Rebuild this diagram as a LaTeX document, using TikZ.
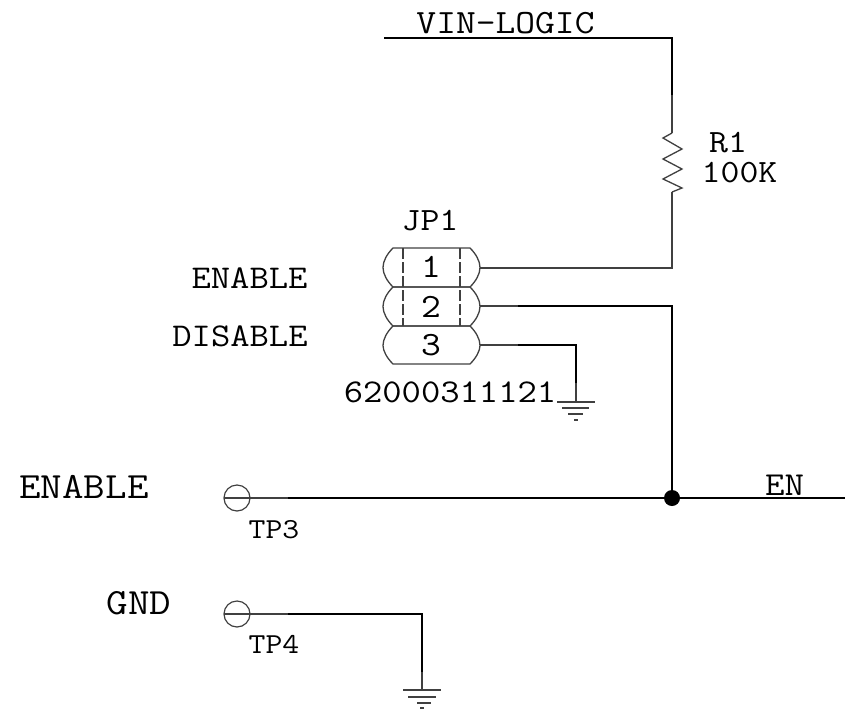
\documentclass[tikz,border=0pt]{standalone}
\usepackage{graphicx}
\definecolor{thinw}{gray}{0.25}
\tikzset{
  thickwire/.style={draw=black,line width=2pt},
  thinwire/.style={draw=thinw,line width=1.3pt},
  body/.style={draw=thinw,line width=1.3pt},
  lbl/.style={inner sep=0pt,text=black,anchor=base},
  gndbar/.style={draw=thinw,line width=1.4pt},
  dot/.style={circle,fill=black,inner sep=0pt,minimum size=16pt},
  tp/.style={circle,draw=thinw,line width=1.2pt,inner sep=0pt,minimum size=26pt}
}
\newcommand{\lt}[2]{{\fontsize{#1}{#1}\selectfont\ttfamily\scalebox{1.13}[1]{#2}}}
\begin{document}
\begin{tikzpicture}[x=1pt,y=-1pt]
\useasboundingbox (0,0) rectangle (849,716);
% coordinates
\coordinate (vinL) at (384,38);
\coordinate (vinC) at (672,38);
\coordinate (vinT) at (672,95);
\coordinate (rT) at (672,133);
\coordinate (rB) at (672,192);
\coordinate (p1C) at (672,268);
\coordinate (p1) at (480,268);
\coordinate (p2) at (480,306);
\coordinate (p2m) at (518,306);
\coordinate (p2C) at (672,306);
\coordinate (p3) at (480,345);
\coordinate (p3m) at (518,345);
\coordinate (p3C) at (576,345);
\coordinate (g1m) at (576,383);
\coordinate (g1) at (576,402);
\coordinate (t3m) at (288,498);
\coordinate (enR) at (845,498);
\coordinate (t4m) at (288,614);
\coordinate (t4C) at (422,614);
\coordinate (g2m) at (422,672);
\coordinate (g2) at (422,690);
\node[dot] (J) at (672,498) {};
\node[tp] (TP3) at (237,498) {};
\node[tp] (TP4) at (237,614) {};
% wires
\draw[thickwire] (vinL) -- (vinC) -- (vinT);
\draw[thinwire] (vinT) -- (rT);
\draw[thinwire,line join=miter] (rT) -- (663,138) -- (682,149) -- (663,159) -- (682,169) -- (663,179) -- (682,188) -- (rB);
\draw[thinwire] (rB) -- (p1C) -- (p1);
\draw[thinwire] (p2) -- (p2m);
\draw[thickwire] (p2m) -- (p2C) -- (J.center);
\draw[thinwire] (p3) -- (p3m);
\draw[thickwire] (p3m) -- (p3C) -- (g1m);
\draw[thinwire] (g1m) -- (g1);
\draw[thinwire] (TP3.center) ++(-13,0) -- (t3m);
\draw[thickwire] (t3m) -- (J.center) -- (enR);
\draw[thinwire] (TP4.center) ++(-13,0) -- (t4m);
\draw[thickwire] (t4m) -- (t4C) -- (g2m);
\draw[thinwire] (g2m) -- (g2);
% grounds
\draw[gndbar] (557,402) -- (595,402) (562,408) -- (589,408) (568,414) -- (583,414) (574,420) -- (578,420);
\draw[gndbar] (403,690) -- (441,690) (408,697) -- (436,697) (417,703) -- (431,703) (420,708) -- (424,708);
% jumper
\foreach \t/\b in {248/287,287/326,326/364}{
  \draw[body] (393,\t) -- (470,\t) .. controls (476,\t+6) and (480,\t+13) .. (480,\t+19.5) .. controls (480,\b-13) and (476,\b-6) .. (470,\b) -- (393,\b) .. controls (387,\b-6) and (383,\b-13) .. (383,\t+19.5) .. controls (383,\t+13) and (387,\t+6) .. (393,\t) -- cycle;
}
\draw[body,dash pattern=on 11pt off 3pt] (403,248) -- (403,326);
\draw[body,dash pattern=on 11pt off 3pt] (460,248) -- (460,326);
% labels
\node[lbl] (vinT1) at (505.5,33) {\lt{34}{VIN-LOGIC}};
\node[lbl] (r1) at (728,152) {\lt{32.5}{R1}};
\node[lbl] (r2) at (739.5,182) {\lt{32.5}{100K}};
\node[lbl] (jp) at (430,230) {\lt{32.5}{JP1}};
\node[lbl] (d1) at (431,277) {\lt{34}{1}};
\node[lbl] (d2) at (431,317) {\lt{34}{2}};
\node[lbl] (d3) at (431,355) {\lt{34}{3}};
\node[lbl] (en1) at (249.5,288) {\lt{33.2}{ENABLE}};
\node[lbl] (dis) at (240,346) {\lt{33.2}{DISABLE}};
\node[lbl] (pn) at (450,402) {\lt{33.2}{62000311121}};
\node[lbl] (en2) at (84,498) {\lt{37}{ENABLE}};
\node[lbl] (gnd) at (139,614) {\lt{37}{GND}};
\node[lbl] (tp3) at (274,538) {\lt{29}{TP3}};
\node[lbl] (tp4) at (274,653) {\lt{29}{TP4}};
\node[lbl] (en3) at (784.5,495) {\lt{33.5}{EN}};
\end{tikzpicture}
\end{document}
